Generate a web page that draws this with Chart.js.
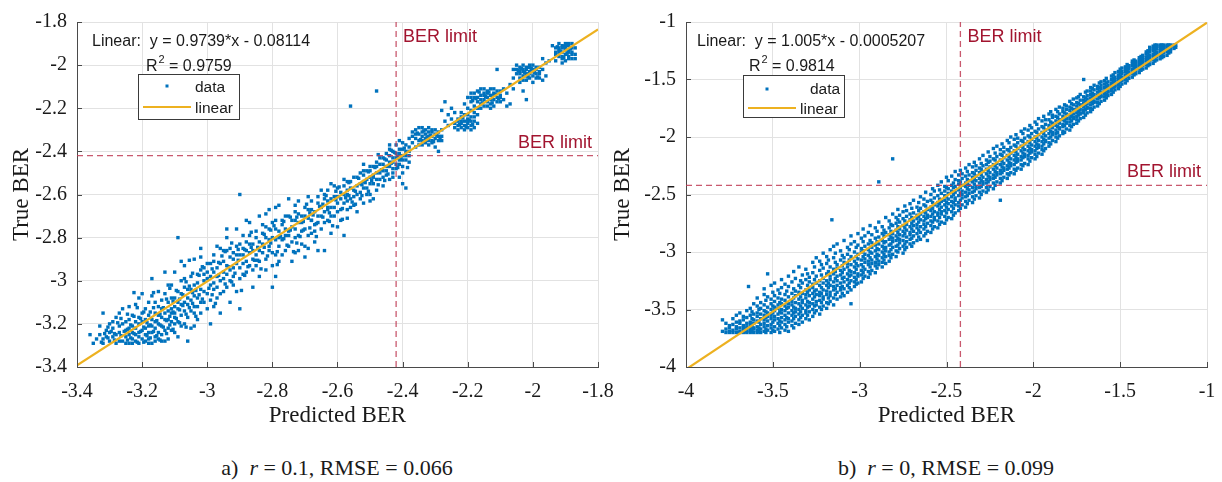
<!DOCTYPE html>
<html>
<head>
<meta charset="utf-8">
<script src="https://cdn.jsdelivr.net/npm/chart.js@4.4.1/dist/chart.umd.min.js"></script>
<style>
  html, body { margin: 0; padding: 0; background: #fff; width: 1222px; height: 482px; overflow: hidden; }
  .panel { position: absolute; top: 0; width: 640px; height: 440px; }
  #wrapA { left: 0; }
  #wrapB { left: 600px; }
  .cap { position: absolute; top: 457px; width: 400px; text-align: center; white-space: pre;
         font-family: "Liberation Serif", "Times New Roman", serif; font-size: 22px; line-height: 22px; color: #1a1a1a; }
  #capA { left: 137px; }
  #capB { left: 746px; }
</style>
</head>
<body>
<div class="panel" id="wrapA"><canvas id="chartA"></canvas></div>
<div class="panel" id="wrapB"><canvas id="chartB"></canvas></div>
<div class="cap" id="capA">a)  <i>r</i> = 0.1, RMSE = 0.066</div>
<div class="cap" id="capB">b)  <i>r</i> = 0, RMSE = 0.099</div>
<script>
// ---- axis ticks ----
const ticksA = [-3.4, -3.2, -3, -2.8, -2.6, -2.4, -2.2, -2, -1.8];
const ticksB = [-4, -3.5, -3, -2.5, -2, -1.5, -1];

// ---- BER threshold (log10) ----
const berLimit = -2.42;

// ---- linear fits: slope, intercept ----
const fitA = [0.9739, -0.08114];
const fitB = [1.005, -0.0005207];
const r2A = "0.9759";
const r2B = "0.9814";

// ---- panel a: [predicted, true] ----
const pointsA = [
  [-3.36,-3.25],[-3.35,-3.29],[-3.33,-3.21],[-3.32,-3.27],[-3.31,-3.23],[-3.30,-3.28],[-3.30,-3.20],
  [-3.29,-3.26],[-3.28,-3.29],[-3.28,-3.17],[-3.27,-3.24],[-3.27,-3.21],[-3.26,-3.28],[-3.26,-3.13],[-3.25,-3.26],[-3.25,-3.19],
  [-3.24,-3.29],[-3.24,-3.22],[-3.23,-3.16],[-3.23,-3.27],[-3.22,-3.25],[-3.22,-3.11],[-3.21,-3.20],[-3.21,-3.29],[-3.20,-3.23],
  [-3.20,-3.06],[-3.20,-3.15],[-3.19,-3.28],[-3.19,-3.18],[-3.23,-3.24],[-3.21,-3.26],[-3.19,-3.22],[-3.22,-3.19],
  [-3.18,-3.24],[-3.18,-3.10],[-3.17,-3.21],[-3.17,-3.29],[-3.17,-2.99],[-3.16,-3.15],[-3.16,-3.26],[-3.15,-3.12],[-3.15,-3.20],
  [-3.15,-3.05],[-3.14,-3.28],[-3.14,-3.17],[-3.14,-3.09],[-3.13,-3.23],[-3.18,-3.27],[-3.16,-3.19],[-3.13,-3.18],[-3.15,-3.24],
  [-3.12,-3.14],[-3.12,-3.02],[-3.12,-3.27],[-3.11,-3.19],[-3.11,-3.08],[-3.10,-2.96],[-3.10,-3.12],[-3.10,-3.24],[-3.09,-2.80],
  [-3.09,-3.05],[-3.08,-3.16],[-3.08,-3.00],[-3.08,-3.21],[-3.11,-3.15],[-3.09,-3.10],[-3.12,-3.22],[-3.10,-3.17],
  [-3.07,-3.10],[-3.07,-2.93],[-3.06,-3.28],[-3.06,-3.04],[-3.05,-3.14],[-3.05,-2.98],[-3.05,-3.22],[-3.04,-3.07],[-3.04,-2.90],
  [-3.03,-3.01],[-3.03,-3.18],[-3.02,-3.10],[-3.02,-2.95],[-3.02,-2.85],[-3.06,-3.08],[-3.04,-3.12],[-3.07,-3.03],
  [-3.01,-3.05],[-3.00,-2.99],[-3.00,-3.13],[-3.00,-2.92],[-2.99,-3.20],[-2.99,-3.02],[-2.98,-2.88],[-2.98,-2.96],[-2.97,-3.08],
  [-2.97,-2.94],[-2.96,-3.15],[-2.96,-2.85],[-2.96,-3.00],[-3.01,-2.97],[-2.98,-3.04],[-2.99,-2.92],
  [-2.95,-2.91],[-2.95,-3.05],[-2.94,-2.97],[-2.94,-2.80],[-2.93,-3.10],[-2.93,-2.89],[-2.92,-2.94],[-2.92,-3.02],[-2.91,-2.84],
  [-2.91,-2.76],[-2.90,-2.99],[-2.90,-2.60],[-2.90,-2.88],[-2.90,-3.13],[-2.94,-2.86],[-2.92,-2.90],[-2.95,-2.96],
  [-2.89,-2.92],[-2.88,-2.82],[-2.88,-2.96],[-2.87,-2.73],[-2.87,-2.87],[-2.86,-3.03],[-2.86,-2.90],[-2.85,-2.80],[-2.85,-2.93],
  [-2.84,-2.70],[-2.84,-2.86],[-2.84,-2.98],[-2.89,-2.85],[-2.87,-2.79],[-2.86,-2.83],
  [-2.83,-2.83],[-2.82,-2.90],[-2.82,-2.75],[-2.81,-2.67],[-2.81,-2.86],[-2.80,-3.03],[-2.80,-2.80],[-2.80,-2.93],[-2.79,-2.72],
  [-2.79,-2.98],[-2.78,-2.84],[-2.78,-2.77],[-2.78,-2.65],[-2.83,-2.78],[-2.81,-2.81],[-2.79,-2.88],
  [-2.77,-2.88],[-2.76,-2.79],[-2.76,-2.70],[-2.75,-2.62],[-2.75,-2.84],[-2.74,-2.75],[-2.74,-2.91],[-2.73,-2.68],[-2.73,-2.80],
  [-2.72,-2.63],[-2.72,-2.86],[-2.72,-2.73],[-2.77,-2.74],[-2.75,-2.77],[-2.73,-2.72],
  [-2.71,-2.77],[-2.70,-2.66],[-2.70,-2.84],[-2.70,-2.89],[-2.69,-2.71],[-2.69,-2.61],[-2.68,-2.78],[-2.68,-2.67],[-2.67,-2.74],
  [-2.67,-2.82],[-2.66,-2.64],[-2.66,-2.86],[-2.66,-2.70],[-2.71,-2.70],[-2.68,-2.72],[-2.64,-2.86],
  [-2.65,-2.58],[-2.65,-2.76],[-2.64,-2.68],[-2.63,-2.63],[-2.63,-2.72],[-2.62,-2.55],[-2.62,-2.66],[-2.62,-2.78],
  [-2.61,-2.61],[-2.61,-2.70],[-2.60,-2.64],[-2.60,-2.57],[-2.64,-2.62],[-2.63,-2.67],
  [-2.59,-2.67],[-2.58,-2.79],[-2.58,-2.60],[-2.58,-2.53],[-2.57,-2.63],[-2.57,-2.71],[-2.56,-2.19],[-2.56,-2.57],[-2.56,-2.66],
  [-2.55,-2.52],[-2.55,-2.61],[-2.54,-2.68],[-2.54,-2.56],[-2.59,-2.62],[-2.57,-2.58],
  [-2.53,-2.59],[-2.53,-2.50],[-2.52,-2.64],[-2.52,-2.54],[-2.51,-2.57],[-2.51,-2.49],[-2.50,-2.60],[-2.50,-2.52],[-2.50,-2.47],
  [-2.49,-2.55],[-2.49,-2.62],[-2.48,-2.12],[-2.48,-2.50],[-2.48,-2.45],[-2.48,-2.58],[-2.52,-2.51],[-2.49,-2.52],
  [-2.47,-2.53],[-2.47,-2.46],[-2.46,-2.49],[-2.46,-2.43],[-2.46,-2.56],[-2.45,-2.47],[-2.45,-2.51],[-2.45,-2.41],[-2.44,-2.45],
  [-2.44,-2.53],[-2.44,-2.39],[-2.43,-2.48],[-2.43,-2.43],[-2.43,-2.50],[-2.42,-2.41],[-2.42,-2.46],[-2.42,-2.37],
  [-2.41,-2.44],[-2.41,-2.52],[-2.41,-2.39],[-2.40,-2.42],[-2.40,-2.55],[-2.40,-2.36],[-2.40,-2.47],[-2.39,-2.40],[-2.39,-2.57],
  [-2.39,-2.44],[-2.38,-2.34],[-2.38,-2.38],[-2.38,-2.42],
  [-2.37,-2.33],[-2.37,-2.36],[-2.36,-2.30],[-2.36,-2.34],[-2.36,-2.38],[-2.35,-2.32],[-2.35,-2.35],[-2.35,-2.29],[-2.34,-2.31],
  [-2.34,-2.33],[-2.34,-2.37],[-2.33,-2.30],[-2.33,-2.34],[-2.33,-2.32],[-2.32,-2.31],[-2.32,-2.35],[-2.32,-2.29],[-2.31,-2.33],
  [-2.31,-2.30],[-2.31,-2.36],[-2.30,-2.32],[-2.30,-2.34],[-2.30,-2.38],[-2.29,-2.31],[-2.29,-2.35],[-2.29,-2.40],[-2.28,-2.33],
  [-2.28,-2.30],
  [-2.27,-2.26],[-2.26,-2.28],[-2.26,-2.23],[-2.25,-2.25],[-2.27,-2.17],[-2.28,-2.21],[-2.25,-2.20],[-2.24,-2.22],
  [-2.24,-2.27],[-2.24,-2.29],[-2.23,-2.25],[-2.23,-2.28],[-2.23,-2.30],[-2.22,-2.24],[-2.22,-2.27],[-2.22,-2.29],[-2.21,-2.26],
  [-2.21,-2.28],[-2.21,-2.23],[-2.20,-2.25],[-2.20,-2.29],[-2.20,-2.27],[-2.19,-2.24],[-2.19,-2.28],[-2.19,-2.21],[-2.18,-2.26],
  [-2.18,-2.22],[-2.18,-2.29],
  [-2.21,-2.18],[-2.20,-2.15],[-2.20,-2.20],[-2.19,-2.17],[-2.19,-2.13],[-2.18,-2.19],[-2.18,-2.15],[-2.17,-2.12],[-2.17,-2.17],
  [-2.17,-2.20],[-2.16,-2.14],[-2.16,-2.18],[-2.16,-2.11],[-2.15,-2.16],[-2.15,-2.13],[-2.15,-2.19],[-2.14,-2.12],[-2.14,-2.17],
  [-2.14,-2.15],[-2.13,-2.14],[-2.13,-2.18],[-2.13,-2.11],[-2.12,-2.16],[-2.12,-2.13],[-2.12,-2.19],[-2.11,-2.15],[-2.11,-2.12],
  [-2.10,-2.14],[-2.10,-2.17],[-2.09,-2.16],[-2.09,-2.11],[-2.11,-2.02],[-2.08,-2.13],[-2.08,-2.19],
  [-2.07,-2.09],[-2.06,-2.06],[-2.06,-2.11],[-2.07,-2.18],[-2.02,-2.16],[-2.03,-2.12],
  [-2.06,-2.02],[-2.05,-2.00],[-2.05,-2.04],[-2.04,-2.01],[-2.04,-2.03],[-2.04,-2.06],[-2.03,-2.00],[-2.03,-2.02],[-2.03,-2.05],
  [-2.02,-2.01],[-2.02,-2.04],[-2.02,-2.07],[-2.01,-2.00],[-2.01,-2.03],[-2.01,-2.06],[-2.00,-2.02],[-2.00,-2.05],[-2.00,-2.08],
  [-1.99,-2.01],[-1.99,-2.04],[-1.98,-2.03],[-1.98,-2.06],[-1.97,-2.02],[-1.97,-2.07],[-1.96,-1.99],[-1.96,-2.05],
  [-1.97,-1.97],[-1.95,-1.98],
  [-1.93,-1.92],[-1.93,-1.95],[-1.92,-1.90],[-1.92,-1.93],[-1.92,-1.96],[-1.91,-1.91],[-1.91,-1.94],[-1.91,-1.97],[-1.90,-1.90],
  [-1.90,-1.92],[-1.90,-1.95],[-1.90,-1.98],[-1.89,-1.91],[-1.89,-1.93],[-1.89,-1.96],[-1.88,-1.90],[-1.88,-1.94],[-1.88,-1.97],
  [-1.87,-1.97],[-1.93,-1.98],[-1.94,-1.91],
  [-3.34,-3.27],[-3.33,-3.25],[-3.32,-3.29],[-3.31,-3.26],[-3.29,-3.22],[-3.28,-3.25],[-3.27,-3.28],[-3.26,-3.20],[-3.25,-3.23],
  [-3.25,-3.29],[-3.29,-3.19],[-3.32,-3.15],[-3.30,-3.24],[-3.27,-3.15],
  [-3.24,-3.25],[-3.24,-3.18],[-3.23,-3.29],[-3.23,-3.21],[-3.22,-3.28],[-3.22,-3.22],[-3.21,-3.17],[-3.21,-3.24],[-3.20,-3.27],
  [-3.20,-3.19],[-3.19,-3.25],[-3.19,-3.13],[-3.18,-3.21],[-3.18,-3.29],[-3.18,-3.16],[-3.17,-3.24],[-3.17,-3.18],[-3.16,-3.28],
  [-3.16,-3.22],[-3.16,-3.10],[-3.15,-3.27],[-3.15,-3.16],[-3.24,-3.12],[-3.21,-3.08],[-3.17,-3.07],
  [-3.14,-3.21],[-3.14,-3.13],[-3.14,-3.25],[-3.13,-3.15],[-3.13,-3.28],[-3.13,-3.06],[-3.12,-3.18],[-3.12,-3.10],[-3.11,-3.23],
  [-3.11,-3.13],[-3.11,-3.02],[-3.10,-3.20],[-3.10,-3.08],[-3.10,-3.15],[-3.09,-3.19],[-3.09,-3.13],[-3.09,-3.26],[-3.08,-3.11],
  [-3.08,-3.06],[-3.07,-3.14],[-3.07,-3.20],[-3.07,-2.99],[-3.06,-3.11],[-3.06,-3.17],[-3.05,-3.09],[-3.05,-3.04],[-3.13,-2.96],
  [-3.08,-2.91],
  [-3.04,-3.15],[-3.04,-3.02],[-3.04,-3.21],[-3.03,-3.08],[-3.03,-2.97],[-3.03,-3.12],[-3.02,-3.04],[-3.02,-3.15],[-3.01,-2.94],
  [-3.01,-3.10],[-3.01,-3.00],[-3.00,-3.06],[-3.00,-2.96],[-2.99,-3.09],[-2.99,-2.98],[-2.98,-3.01],[-2.98,-3.12],[-2.98,-2.91],
  [-2.97,-3.03],[-2.97,-2.98],[-2.96,-2.92],[-2.96,-3.06],[-2.95,-2.99],[-2.95,-2.86],[-3.02,-2.89],[-2.97,-2.84],
  [-2.94,-2.93],[-2.94,-3.03],[-2.93,-2.95],[-2.93,-2.85],[-2.93,-3.00],[-2.92,-2.87],[-2.92,-2.98],[-2.91,-2.92],[-2.91,-3.05],
  [-2.91,-2.88],[-2.90,-2.94],[-2.90,-2.83],[-2.89,-2.97],[-2.89,-2.88],[-2.89,-2.79],[-2.88,-2.91],[-2.88,-2.86],[-2.87,-2.93],
  [-2.87,-2.83],[-2.86,-2.86],[-2.86,-2.95],[-2.85,-2.88],[-2.85,-2.77],[-2.94,-2.76],[-2.88,-2.72],
  [-2.84,-2.82],[-2.84,-2.91],[-2.83,-2.87],[-2.83,-2.74],[-2.82,-2.80],[-2.82,-2.95],[-2.81,-2.84],[-2.81,-2.76],[-2.80,-2.87],
  [-2.80,-2.73],[-2.79,-2.81],[-2.79,-2.76],[-2.78,-2.80],[-2.78,-2.91],[-2.77,-2.72],[-2.77,-2.81],[-2.76,-2.76],[-2.76,-2.86],
  [-2.75,-2.79],[-2.75,-2.70],[-2.82,-2.69],[-2.79,-2.66],
  [-2.74,-2.72],[-2.74,-2.82],[-2.73,-2.76],[-2.73,-2.65],[-2.72,-2.79],[-2.72,-2.69],[-2.71,-2.73],[-2.71,-2.83],[-2.70,-2.70],
  [-2.70,-2.76],[-2.69,-2.67],[-2.69,-2.79],[-2.68,-2.72],[-2.68,-2.63],[-2.67,-2.68],[-2.67,-2.77],[-2.66,-2.73],[-2.66,-2.61],
  [-2.65,-2.70],[-2.65,-2.66],[-2.73,-2.87],[-2.69,-2.85],
  [-2.64,-2.73],[-2.64,-2.60],[-2.63,-2.66],[-2.63,-2.58],[-2.62,-2.70],[-2.62,-2.62],[-2.61,-2.66],[-2.61,-2.56],[-2.60,-2.68],
  [-2.60,-2.61],[-2.59,-2.59],[-2.59,-2.72],[-2.58,-2.64],[-2.58,-2.56],[-2.57,-2.60],[-2.57,-2.54],[-2.56,-2.62],[-2.56,-2.54],
  [-2.55,-2.58],[-2.55,-2.65],[-2.60,-2.75],[-2.57,-2.67],
  [-2.54,-2.60],[-2.54,-2.52],[-2.53,-2.55],[-2.53,-2.62],[-2.52,-2.57],[-2.52,-2.49],[-2.51,-2.53],[-2.51,-2.60],[-2.50,-2.55],
  [-2.50,-2.49],[-2.49,-2.51],[-2.49,-2.47],[-2.48,-2.53],[-2.48,-2.47],[-2.47,-2.50],[-2.47,-2.43],[-2.46,-2.46],[-2.46,-2.52],
  [-2.45,-2.44],[-2.45,-2.49],[-2.52,-2.46],[-2.50,-2.63],
  [-2.44,-2.47],[-2.44,-2.42],[-2.43,-2.45],[-2.43,-2.40],[-2.43,-2.52],[-2.42,-2.43],[-2.42,-2.48],[-2.41,-2.41],[-2.41,-2.46],
  [-2.40,-2.44],[-2.40,-2.39],[-2.40,-2.50],[-2.39,-2.42],[-2.39,-2.37],[-2.38,-2.40],[-2.38,-2.45],[-2.41,-2.35],[-2.44,-2.37],
  [-2.37,-2.31],[-2.36,-2.32],[-2.35,-2.37],[-2.34,-2.35],[-2.33,-2.36],[-2.32,-2.33],[-2.31,-2.31],[-2.31,-2.35],[-2.30,-2.30],
  [-2.29,-2.33],[-2.28,-2.35],[-2.32,-2.37],[-2.34,-2.29],
  [-2.23,-2.26],[-2.22,-2.26],[-2.21,-2.30],[-2.20,-2.23],[-2.20,-2.26],[-2.19,-2.26],[-2.19,-2.30],[-2.18,-2.24],[-2.22,-2.22],
  [-2.17,-2.27],[-2.17,-2.23],
  [-2.19,-2.15],[-2.18,-2.13],[-2.17,-2.15],[-2.16,-2.16],[-2.15,-2.14],[-2.15,-2.11],[-2.14,-2.13],[-2.14,-2.19],[-2.13,-2.16],
  [-2.12,-2.14],[-2.12,-2.11],[-2.11,-2.17],[-2.10,-2.12],[-2.10,-2.15],[-2.13,-2.20],[-2.16,-2.20],
  [-2.05,-2.02],[-2.04,-2.04],[-2.03,-2.03],[-2.03,-2.07],[-2.02,-2.02],[-2.02,-2.05],[-2.01,-2.01],[-2.01,-2.04],[-2.00,-2.03],
  [-2.00,-2.00],[-1.99,-2.02],[-1.99,-2.06],[-1.98,-2.01],[-1.98,-2.04],[-2.04,-2.08],
  [-1.92,-1.92],[-1.92,-1.94],[-1.91,-1.92],[-1.91,-1.96],[-1.90,-1.93],[-1.90,-1.91],[-1.89,-1.94],[-1.89,-1.90],[-1.89,-1.97],
  [-1.88,-1.92],[-1.88,-1.95],[-1.87,-1.92],[-1.87,-1.95],[-1.93,-1.94],[-1.91,-1.99],
  [-3.325,-3.285],[-3.315,-3.245],[-3.305,-3.265],[-3.295,-3.235],[-3.285,-3.275],[-3.275,-3.195],[-3.265,-3.255],[-3.255,-3.235],
  [-3.245,-3.275],[-3.235,-3.205],[-3.225,-3.245],[-3.215,-3.285],[-3.205,-3.175],[-3.195,-3.215],[-3.185,-3.255],[-3.175,-3.145],
  [-3.165,-3.235],[-3.155,-3.185],[-3.145,-3.205],[-3.135,-3.125],[-3.125,-3.245],[-3.115,-3.165],[-3.105,-3.095],[-3.095,-3.175],
  [-3.085,-3.135],[-3.075,-3.065],[-3.065,-3.155],[-3.055,-3.025],[-3.045,-3.105],[-3.035,-3.045],[-3.025,-2.975],[-3.015,-3.085],
  [-3.305,-3.215],[-3.285,-3.245],[-3.265,-3.175],[-3.245,-3.225],[-3.235,-3.265],[-3.225,-3.165],[-3.205,-3.235],[-3.195,-3.145],
  [-3.185,-3.195],[-3.175,-3.265],[-3.165,-3.125],[-3.155,-3.255],[-3.145,-3.155],[-3.135,-3.215],[-3.125,-3.085],[-3.115,-3.205],
  [-3.105,-3.145],[-3.095,-3.045],[-3.085,-3.195],[-3.075,-3.115],[-3.065,-3.005],[-3.055,-3.125],[-3.045,-2.965],[-3.035,-3.165],
  [-3.025,-3.065],[-3.015,-2.935],
  [-3.245,-3.155],[-3.215,-3.125],[-3.195,-3.285],[-3.175,-3.205],[-3.145,-3.275],[-3.125,-3.185],[-3.105,-3.225],[-3.085,-3.085],
  [-3.065,-3.215],[-3.045,-3.055],[-3.225,-3.055],[-3.165,-3.055],[-3.115,-3.035],[-3.055,-2.905],
  [-2.995,-3.035],[-2.985,-2.945],[-2.975,-3.105],[-2.965,-2.975],[-2.955,-2.885],[-2.945,-3.015],[-2.935,-2.935],[-2.925,-2.825],
  [-2.915,-2.965],[-2.905,-2.905],[-2.895,-3.045],[-2.885,-2.855],[-2.875,-2.935],[-2.865,-2.775],[-2.855,-2.905],[-2.845,-2.845],
  [-2.835,-2.945],[-2.825,-2.785],[-2.815,-2.885],[-2.805,-2.825],[-2.795,-2.745],[-2.785,-2.865],[-2.775,-2.795],[-2.765,-2.725],
  [-2.755,-2.835],[-2.745,-2.765],[-2.735,-2.865],[-2.725,-2.705],[-2.715,-2.795],[-2.705,-2.725],[-2.695,-2.645],[-2.685,-2.755],
  [-2.675,-2.695],[-2.665,-2.795],[-2.655,-2.655],[-2.645,-2.705],[-2.635,-2.605],[-2.625,-2.685],[-2.615,-2.745],[-2.605,-2.625],
  [-2.595,-2.565],[-2.585,-2.665],[-2.575,-2.615],[-2.565,-2.545],[-2.555,-2.635],[-2.545,-2.585],[-2.535,-2.525],[-2.525,-2.605],
  [-2.515,-2.545],[-2.505,-2.495],
  [-2.985,-3.065],[-2.965,-2.915],[-2.945,-2.865],[-2.925,-3.005],[-2.905,-2.855],[-2.885,-2.975],[-2.865,-2.845],[-2.845,-2.905],
  [-2.825,-2.845],[-2.805,-2.765],[-2.785,-2.925],[-2.765,-2.805],[-2.745,-2.705],[-2.725,-2.825],[-2.705,-2.765],[-2.685,-2.685],
  [-2.665,-2.735],[-2.645,-2.645],[-2.625,-2.725],[-2.605,-2.585],[-2.585,-2.715],[-2.565,-2.605],[-2.545,-2.645],[-2.525,-2.555],
  [-2.505,-2.585],
  [-2.495,-2.535],[-2.485,-2.475],[-2.475,-2.555],[-2.465,-2.485],[-2.455,-2.435],[-2.445,-2.505],[-2.435,-2.455],[-2.425,-2.405],
  [-2.415,-2.475],[-2.405,-2.435],[-2.395,-2.385],[-2.385,-2.475],[-2.475,-2.415],[-2.455,-2.535],[-2.435,-2.395],[-2.415,-2.425],
  [-2.355,-2.315],[-2.345,-2.345],[-2.335,-2.305],[-2.325,-2.335],[-2.315,-2.325],[-2.305,-2.355],[-2.295,-2.325],[-2.285,-2.345],
  [-2.225,-2.275],[-2.215,-2.245],[-2.205,-2.285],[-2.195,-2.255],[-2.185,-2.275],
  [-2.175,-2.155],[-2.165,-2.125],[-2.155,-2.175],[-2.145,-2.145],[-2.135,-2.125],[-2.125,-2.175],[-2.115,-2.135],[-2.105,-2.155],
  [-2.185,-2.165],
  [-2.035,-2.015],[-2.025,-2.035],[-2.015,-2.055],[-2.005,-2.015],[-1.995,-2.035],[-1.985,-2.055],[-2.045,-2.025],
  [-1.915,-1.935],[-1.905,-1.915],[-1.895,-1.945],[-1.905,-1.965],[-1.885,-1.925],[-1.925,-1.915]
];

// ---- panel b: [predicted, [true values at that prediction]] ----
const columnsB = [
  [-3.79,[-3.59,-3.69]],
  [-3.77,[-3.70,-3.67,-3.62]],
  [-3.75,[-3.69,-3.66,-3.64,-3.70]],
  [-3.73,[-3.70,-3.68,-3.63,-3.58]],
  [-3.71,[-3.70,-3.67,-3.65,-3.61,-3.55]],
  [-3.69,[-3.69,-3.66,-3.62,-3.60,-3.53,-3.70]],
  [-3.67,[-3.70,-3.68,-3.64,-3.59,-3.56,-3.66]],
  [-3.65,[-3.69,-3.67,-3.65,-3.62,-3.57,-3.51,-3.70]],
  [-3.64,[-3.30]],
  [-3.63,[-3.70,-3.66,-3.63,-3.61,-3.55,-3.49,-3.68]],
  [-3.62,[-3.69,-3.64,-3.58,-3.52]],
  [-3.61,[-3.70,-3.67,-3.62,-3.59,-3.54,-3.45,-3.66]],
  [-3.59,[-3.68,-3.65,-3.60,-3.56,-3.53,-3.47,-3.40,-3.70]],
  [-3.58,[-3.69,-3.66,-3.61,-3.50]],
  [-3.57,[-3.70,-3.67,-3.63,-3.58,-3.54,-3.49,-3.44]],
  [-3.55,[-3.69,-3.65,-3.62,-3.59,-3.55,-3.51,-3.46,-3.37,-3.32]],
  [-3.54,[-3.70,-3.67,-3.57,-3.52,-3.42]],
  [-3.53,[-3.68,-3.64,-3.60,-3.56,-3.53,-3.48,-3.39,-3.19]],
  [-3.51,[-3.70,-3.66,-3.63,-3.58,-3.55,-3.50,-3.45,-3.41,-3.29]],
  [-3.50,[-3.68,-3.61,-3.53,-3.47,-3.35]],
  [-3.49,[-3.69,-3.65,-3.59,-3.56,-3.51,-3.48,-3.43,-3.38,-3.27]],
  [-3.47,[-3.67,-3.62,-3.58,-3.54,-3.49,-3.46,-3.40,-3.33]],
  [-3.46,[-3.70,-3.64,-3.60,-3.52,-3.44,-3.36]],
  [-3.45,[-3.66,-3.61,-3.57,-3.53,-3.50,-3.45,-3.41,-3.31,-3.24]],
  [-3.43,[-3.68,-3.63,-3.59,-3.55,-3.51,-3.47,-3.42,-3.37,-3.28]],
  [-3.42,[-3.65,-3.57,-3.49,-3.44,-3.34]],
  [-3.41,[-3.69,-3.61,-3.58,-3.53,-3.48,-3.45,-3.39,-3.30,-3.21]],
  [-3.39,[-3.64,-3.60,-3.55,-3.51,-3.46,-3.43,-3.36,-3.26]],
  [-3.38,[-3.66,-3.58,-3.53,-3.48,-3.40,-3.32,-3.17]],
  [-3.37,[-3.62,-3.56,-3.52,-3.49,-3.44,-3.38,-3.34,-3.23]],
  [-3.35,[-3.63,-3.59,-3.54,-3.50,-3.45,-3.41,-3.35,-3.29,-3.13]],
  [-3.34,[-3.57,-3.52,-3.47,-3.39,-3.31,-3.25]],
  [-3.33,[-3.61,-3.55,-3.49,-3.44,-3.42,-3.36,-3.27,-3.20]],
  [-3.31,[-3.58,-3.53,-3.51,-3.46,-3.40,-3.37,-3.33,-3.24,-3.15]],
  [-3.30,[-3.55,-3.48,-3.43,-3.35,-3.29,-3.19]],
  [-3.29,[-3.59,-3.52,-3.47,-3.44,-3.38,-3.33,-3.26,-3.22]],
  [-3.27,[-3.56,-3.50,-3.45,-3.41,-3.36,-3.31,-3.28,-3.18,-3.09]],
  [-3.26,[-3.53,-3.47,-3.39,-3.34,-3.24,-3.13]],
  [-3.25,[-3.51,-3.46,-3.43,-3.37,-3.33,-3.27,-3.21,-3.05]],
  [-3.23,[-3.54,-3.48,-3.42,-3.38,-3.35,-3.29,-3.25,-3.16,-3.08]],
  [-3.22,[-3.50,-3.44,-3.36,-3.31,-3.20,-3.11]],
  [-3.21,[-3.47,-3.41,-3.39,-3.33,-3.27,-3.23,-3.14,-3.01]],
  [-3.19,[-3.49,-3.44,-3.37,-3.34,-3.29,-3.25,-3.19,-3.10,-3.04]],
  [-3.18,[-3.45,-3.40,-3.31,-3.27,-3.17,-3.07]],
  [-3.17,[-3.43,-3.38,-3.35,-3.29,-3.24,-3.21,-3.13,-2.98]],
  [-3.16,[-2.72]],
  [-3.15,[-3.46,-3.40,-3.33,-3.30,-3.26,-3.19,-3.15,-3.05,-2.95]],
  [-3.14,[-3.37,-3.32,-3.23,-3.17,-3.09,-3.01]],
  [-3.13,[-3.41,-3.35,-3.29,-3.25,-3.21,-3.14,-3.11,-2.93]],
  [-3.11,[-3.39,-3.33,-3.31,-3.27,-3.20,-3.16,-3.07,-2.99]],
  [-3.10,[-3.36,-3.30,-3.23,-3.18,-3.12,-3.03]],
  [-3.09,[-3.38,-3.32,-3.26,-3.22,-3.15,-3.09,-3.05,-2.90]],
  [-3.07,[-3.35,-3.29,-3.24,-3.19,-3.13,-3.10,-3.02,-2.96]],
  [-3.06,[-3.31,-3.27,-3.21,-3.16,-3.07,-2.98]],
  [-3.05,[-3.45,-3.33,-3.25,-3.20,-3.17,-3.11,-3.04,-2.93,-2.86]],
  [-3.03,[-3.30,-3.26,-3.22,-3.18,-3.13,-3.08,-3.00,-2.91]],
  [-3.02,[-3.28,-3.24,-3.15,-3.10,-3.04,-2.96]],
  [-3.01,[-3.27,-3.21,-3.19,-3.12,-3.06,-3.02,-2.94,-2.84]],
  [-2.99,[-3.26,-3.20,-3.16,-3.11,-3.07,-3.00,-2.97,-2.88]],
  [-2.98,[-3.23,-3.18,-3.13,-3.04,-2.99,-2.91,-2.80]],
  [-2.97,[-3.21,-3.15,-3.09,-3.06,-3.02,-2.95,-2.86]],
  [-2.95,[-3.22,-3.17,-3.11,-3.08,-3.03,-2.98,-2.93,-2.83]],
  [-2.94,[-3.19,-3.13,-3.05,-3.00,-2.90,-2.77]],
  [-2.93,[-3.16,-3.10,-3.07,-3.01,-2.96,-2.92,-2.85]],
  [-2.91,[-3.18,-3.12,-3.09,-3.04,-2.99,-2.94,-2.88,-2.79]],
  [-2.90,[-3.14,-3.06,-3.02,-2.97,-2.91,-2.82]],
  [-2.89,[-3.11,-3.08,-3.03,-2.98,-2.93,-2.87,-2.74,-2.39]],
  [-2.87,[-3.13,-3.09,-3.05,-3.00,-2.95,-2.90,-2.84,-2.78]],
  [-2.86,[-3.07,-3.02,-2.97,-2.92,-2.86,-2.81]],
  [-2.85,[-3.10,-3.04,-2.99,-2.96,-2.91,-2.83,-2.70]],
  [-2.83,[-3.08,-3.03,-3.00,-2.94,-2.89,-2.85,-2.79,-2.73]],
  [-2.82,[-3.05,-2.98,-2.93,-2.87,-2.82,-2.76]],
  [-2.81,[-3.02,-2.96,-2.91,-2.88,-2.84,-2.77,-2.67,-2.19]],
  [-2.79,[-3.04,-2.99,-2.95,-2.90,-2.86,-2.81,-2.75,-2.70]],
  [-2.78,[-3.00,-2.94,-2.88,-2.83,-2.78,-2.72,-2.63]],
  [-2.77,[-2.97,-2.92,-2.89,-2.85,-2.80,-2.74,-2.68]],
  [-2.75,[-3.01,-2.95,-2.90,-2.86,-2.82,-2.77,-2.71,-2.65]],
  [-2.74,[-2.98,-2.93,-2.84,-2.79,-2.73,-2.60]],
  [-2.73,[-2.96,-2.91,-2.87,-2.81,-2.76,-2.69,-2.64]],
  [-2.71,[-2.93,-2.89,-2.85,-2.83,-2.78,-2.72,-2.67,-2.58]],
  [-2.70,[-2.95,-2.88,-2.80,-2.75,-2.70,-2.62]],
  [-2.69,[-2.92,-2.86,-2.82,-2.77,-2.73,-2.66,-2.55]],
  [-2.67,[-2.90,-2.84,-2.79,-2.76,-2.71,-2.68,-2.61]],
  [-2.66,[-2.87,-2.81,-2.74,-2.69,-2.64,-2.57]],
  [-2.65,[-2.89,-2.83,-2.78,-2.72,-2.67,-2.62,-2.52]],
  [-2.63,[-2.86,-2.80,-2.76,-2.73,-2.69,-2.65,-2.59,-2.54]],
  [-2.62,[-2.84,-2.78,-2.71,-2.66,-2.60,-2.48]],
  [-2.61,[-2.90,-2.82,-2.75,-2.70,-2.68,-2.63,-2.56]],
  [-2.59,[-2.83,-2.77,-2.73,-2.69,-2.64,-2.61,-2.55,-2.50]],
  [-2.58,[-2.80,-2.74,-2.67,-2.62,-2.57,-2.45]],
  [-2.57,[-2.78,-2.72,-2.70,-2.65,-2.59,-2.53,-2.47]],
  [-2.55,[-2.79,-2.73,-2.68,-2.66,-2.60,-2.57,-2.51,-2.42]],
  [-2.54,[-2.76,-2.70,-2.63,-2.58,-2.54,-2.46]],
  [-2.53,[-2.74,-2.67,-2.65,-2.61,-2.56,-2.49,-2.39]],
  [-2.51,[-2.75,-2.69,-2.64,-2.59,-2.55,-2.51,-2.47,-2.43]],
  [-2.50,[-2.72,-2.66,-2.61,-2.57,-2.52,-2.44,-2.35]],
  [-2.49,[-2.70,-2.63,-2.58,-2.54,-2.49,-2.45,-2.38]],
  [-2.47,[-2.71,-2.65,-2.60,-2.56,-2.52,-2.47,-2.42,-2.34]],
  [-2.46,[-2.68,-2.62,-2.57,-2.50,-2.44,-2.40]],
  [-2.45,[-2.66,-2.59,-2.55,-2.53,-2.48,-2.43,-2.37,-2.30]],
  [-2.43,[-2.64,-2.60,-2.57,-2.51,-2.46,-2.41,-2.38,-2.33]],
  [-2.42,[-2.62,-2.55,-2.49,-2.44,-2.39,-2.29]],
  [-2.41,[-2.59,-2.53,-2.50,-2.47,-2.42,-2.36,-2.32]],
  [-2.39,[-2.61,-2.56,-2.52,-2.48,-2.43,-2.40,-2.34,-2.27]],
  [-2.38,[-2.58,-2.51,-2.45,-2.41,-2.37,-2.30]],
  [-2.37,[-2.55,-2.49,-2.46,-2.42,-2.38,-2.33,-2.24]],
  [-2.35,[-2.57,-2.52,-2.48,-2.44,-2.39,-2.35,-2.31,-2.26]],
  [-2.34,[-2.54,-2.47,-2.41,-2.37,-2.32,-2.22]],
  [-2.33,[-2.51,-2.45,-2.43,-2.38,-2.34,-2.29,-2.25]],
  [-2.31,[-2.53,-2.48,-2.44,-2.40,-2.36,-2.31,-2.27,-2.19]],
  [-2.30,[-2.50,-2.43,-2.38,-2.33,-2.28,-2.23]],
  [-2.29,[-2.47,-2.41,-2.39,-2.35,-2.30,-2.25,-2.16]],
  [-2.27,[-2.48,-2.44,-2.40,-2.37,-2.32,-2.28,-2.24,-2.20]],
  [-2.26,[-2.46,-2.39,-2.34,-2.29,-2.22,-2.13]],
  [-2.25,[-2.43,-2.37,-2.35,-2.31,-2.26,-2.21,-2.17]],
  [-2.23,[-2.45,-2.40,-2.36,-2.33,-2.28,-2.24,-2.19,-2.10]],
  [-2.22,[-2.42,-2.35,-2.30,-2.25,-2.20,-2.14]],
  [-2.21,[-2.39,-2.33,-2.31,-2.27,-2.23,-2.17,-2.08]],
  [-2.19,[-2.55,-2.40,-2.36,-2.32,-2.29,-2.24,-2.20,-2.15,-2.11]],
  [-2.18,[-2.38,-2.31,-2.26,-2.21,-2.16,-2.06]],
  [-2.17,[-2.35,-2.29,-2.27,-2.23,-2.18,-2.13,-2.09]],
  [-2.15,[-2.36,-2.32,-2.28,-2.25,-2.20,-2.16,-2.11,-2.03]],
  [-2.14,[-2.33,-2.27,-2.22,-2.17,-2.12,-2.05]],
  [-2.13,[-2.31,-2.25,-2.23,-2.19,-2.14,-2.09,-2.00]],
  [-2.11,[-2.32,-2.28,-2.24,-2.20,-2.16,-2.12,-2.07,-2.02]],
  [-2.10,[-2.29,-2.22,-2.18,-2.13,-2.08,-1.98]],
  [-2.09,[-2.27,-2.21,-2.19,-2.15,-2.10,-2.05,-2.01]],
  [-2.07,[-2.28,-2.24,-2.20,-2.17,-2.12,-2.08,-2.03,-1.95]],
  [-2.06,[-2.25,-2.18,-2.14,-2.09,-2.04,-1.97]],
  [-2.05,[-2.23,-2.17,-2.15,-2.11,-2.06,-2.01,-1.93]],
  [-2.03,[-2.24,-2.19,-2.16,-2.12,-2.08,-2.04,-1.99,-1.94]],
  [-2.02,[-2.21,-2.14,-2.10,-2.05,-2.00,-1.90]],
  [-2.01,[-2.18,-2.13,-2.11,-2.07,-2.02,-1.97,-1.92]],
  [-1.99,[-2.19,-2.15,-2.12,-2.08,-2.04,-2.00,-1.95,-1.87]],
  [-1.98,[-2.17,-2.10,-2.06,-2.01,-1.96,-1.89]],
  [-1.97,[-2.14,-2.09,-2.07,-2.03,-1.98,-1.93,-1.84]],
  [-1.95,[-2.15,-2.11,-2.08,-2.04,-2.00,-1.96,-1.91,-1.86]],
  [-1.94,[-2.12,-2.06,-2.02,-1.97,-1.92,-1.82]],
  [-1.93,[-2.10,-2.04,-2.03,-1.99,-1.94,-1.89,-1.85]],
  [-1.91,[-2.08,-2.05,-2.01,-1.97,-1.93,-1.90,-1.85,-1.80]],
  [-1.90,[-2.06,-2.00,-1.95,-1.91,-1.87,-1.78]],
  [-1.89,[-2.03,-1.98,-1.96,-1.92,-1.88,-1.83,-1.81]],
  [-1.87,[-2.04,-2.00,-1.97,-1.94,-1.90,-1.86,-1.82,-1.76]],
  [-1.86,[-2.01,-1.96,-1.91,-1.87,-1.83,-1.78]],
  [-1.85,[-1.99,-1.93,-1.92,-1.88,-1.85,-1.80,-1.74]],
  [-1.83,[-1.97,-1.95,-1.91,-1.89,-1.85,-1.82,-1.78,-1.75]],
  [-1.82,[-1.96,-1.90,-1.86,-1.83,-1.79,-1.72]],
  [-1.81,[-1.93,-1.88,-1.87,-1.84,-1.80,-1.76,-1.73]],
  [-1.79,[-1.94,-1.90,-1.87,-1.84,-1.81,-1.77,-1.74,-1.69]],
  [-1.78,[-1.91,-1.86,-1.82,-1.79,-1.75,-1.71]],
  [-1.77,[-1.89,-1.84,-1.83,-1.80,-1.76,-1.72,-1.67]],
  [-1.75,[-1.88,-1.85,-1.82,-1.79,-1.76,-1.73,-1.70,-1.66]],
  [-1.74,[-1.86,-1.81,-1.78,-1.75,-1.71,-1.65]],
  [-1.73,[-1.84,-1.80,-1.79,-1.76,-1.72,-1.68,-1.63]],
  [-1.71,[-1.83,-1.79,-1.77,-1.74,-1.71,-1.68,-1.65,-1.50]],
  [-1.70,[-1.81,-1.76,-1.72,-1.69,-1.66,-1.61]],
  [-1.69,[-1.79,-1.75,-1.74,-1.71,-1.67,-1.64,-1.60]],
  [-1.67,[-1.78,-1.75,-1.72,-1.69,-1.66,-1.63,-1.60,-1.57]],
  [-1.66,[-1.76,-1.71,-1.68,-1.65,-1.62,-1.58]],
  [-1.65,[-1.74,-1.70,-1.69,-1.66,-1.63,-1.59,-1.55]],
  [-1.63,[-1.73,-1.70,-1.67,-1.64,-1.61,-1.58,-1.56]],
  [-1.62,[-1.71,-1.66,-1.63,-1.60,-1.57,-1.53]],
  [-1.61,[-1.69,-1.65,-1.64,-1.61,-1.58,-1.55,-1.52]],
  [-1.59,[-1.68,-1.65,-1.62,-1.60,-1.57,-1.54,-1.51]],
  [-1.58,[-1.66,-1.63,-1.59,-1.56,-1.53,-1.49]],
  [-1.57,[-1.64,-1.61,-1.60,-1.57,-1.55,-1.52]],
  [-1.55,[-1.63,-1.60,-1.58,-1.55,-1.53,-1.50,-1.47]],
  [-1.54,[-1.61,-1.57,-1.54,-1.52,-1.49,-1.46]],
  [-1.53,[-1.59,-1.56,-1.55,-1.52,-1.50,-1.48,-1.44]],
  [-1.51,[-1.58,-1.55,-1.53,-1.50,-1.48,-1.46,-1.43]],
  [-1.50,[-1.56,-1.52,-1.49,-1.47,-1.44,-1.41]],
  [-1.49,[-1.54,-1.51,-1.50,-1.48,-1.45,-1.43,-1.40]],
  [-1.47,[-1.53,-1.50,-1.48,-1.46,-1.43,-1.41,-1.39]],
  [-1.46,[-1.51,-1.47,-1.45,-1.42,-1.40,-1.37]],
  [-1.45,[-1.49,-1.46,-1.44,-1.41,-1.39,-1.38]],
  [-1.43,[-1.48,-1.45,-1.43,-1.41,-1.38,-1.36,-1.34]],
  [-1.42,[-1.46,-1.44,-1.40,-1.37,-1.35,-1.33]],
  [-1.41,[-1.45,-1.42,-1.39,-1.38,-1.36,-1.34]],
  [-1.39,[-1.44,-1.41,-1.39,-1.37,-1.35,-1.33,-1.31]],
  [-1.38,[-1.42,-1.40,-1.36,-1.34,-1.32,-1.30]],
  [-1.37,[-1.41,-1.38,-1.35,-1.33,-1.31,-1.29]],
  [-1.35,[-1.40,-1.37,-1.35,-1.33,-1.31,-1.28,-1.26]],
  [-1.34,[-1.38,-1.36,-1.32,-1.30,-1.27,-1.25]],
  [-1.33,[-1.37,-1.34,-1.31,-1.29,-1.26,-1.24,-1.22]],
  [-1.31,[-1.36,-1.33,-1.30,-1.28,-1.25,-1.23,-1.21]],
  [-1.30,[-1.34,-1.31,-1.29,-1.27,-1.24,-1.22,-1.20]],
  [-1.29,[-1.33,-1.30,-1.28,-1.26,-1.23,-1.21,-1.20]],
  [-1.27,[-1.32,-1.29,-1.27,-1.25,-1.23,-1.21,-1.20]],
  [-1.26,[-1.31,-1.28,-1.26,-1.24,-1.22,-1.20]],
  [-1.25,[-1.30,-1.27,-1.25,-1.23,-1.21,-1.20]],
  [-1.23,[-1.29,-1.26,-1.24,-1.22,-1.21,-1.20]],
  [-1.22,[-1.27,-1.25,-1.23,-1.21,-1.20]],
  [-1.21,[-1.26,-1.24,-1.22,-1.20]],
  [-1.19,[-1.23,-1.21,-1.20]],
  [-1.18,[-1.22,-1.20]]
];

const BLUE = '#0072BD';
const ORANGE = '#EDB120';
const CRIMSON = '#A2142F';
const AXIS = '#4a4a4a';
const GRID = '#e2e2e2';
const SERIF = '"Liberation Serif", "Times New Roman", serif';
const SANS = '"Liberation Sans", Arial, sans-serif';

function toXY(pairs) { return pairs.map(p => ({ x: p[0], y: p[1] })); }
function flattenColumns(cols) {
  const out = [];
  cols.forEach(c => c[1].forEach(y => out.push({ x: c[0], y: y })));
  return out;
}

// Legend box, fit equation, threshold labels and inward tick marks
function decorPlugin(p) {
  return {
    id: 'decor',
    afterDraw(chart) {
      const ctx = chart.ctx;
      const a = chart.chartArea;
      const xs = chart.scales.x, ys = chart.scales.y;
      ctx.save();
      // inward ticks
      ctx.strokeStyle = AXIS; ctx.lineWidth = 1;
      ctx.beginPath();
      p.ticks.forEach(v => {
        const px = Math.round(xs.getPixelForValue(v)) + 0.5;
        ctx.moveTo(px, a.bottom); ctx.lineTo(px, a.bottom - 5);
        const py = Math.round(ys.getPixelForValue(v)) + 0.5;
        ctx.moveTo(a.left, py); ctx.lineTo(a.left + 5, py);
      });
      ctx.stroke();

      // threshold labels
      ctx.fillStyle = CRIMSON;
      ctx.font = '18px ' + SANS;
      ctx.textBaseline = 'alphabetic';
      ctx.textAlign = 'left';
      const vx = xs.getPixelForValue(berLimit);
      ctx.fillText('BER limit', vx + 7, a.top + 20);
      const hy = ys.getPixelForValue(berLimit);
      ctx.textAlign = 'right';
      ctx.fillText('BER limit', a.right - 6, hy - 8);

      // fit equation
      ctx.fillStyle = '#1a1a1a';
      ctx.textAlign = 'left';
      ctx.font = '16px ' + SANS;
      const sign = p.fit[1] < 0 ? '-' : '+';
      ctx.fillText('Linear:  y = ' + p.fit[0] + '*x ' + sign + ' ' + Math.abs(p.fit[1]), a.left + p.eq[0], a.top + p.eq[1]);
      const rx = a.left + p.r2[0], ry = a.top + p.r2[1];
      ctx.fillText('R', rx, ry);
      const rw = ctx.measureText('R').width;
      ctx.font = '11px ' + SANS;
      ctx.fillText('2', rx + rw + 1, ry - 8);
      ctx.font = '16px ' + SANS;
      ctx.fillText(' = ' + p.r2Text, rx + rw + 7, ry);

      // legend box
      const L = p.legend;
      ctx.fillStyle = '#ffffff';
      ctx.fillRect(a.left + L.box[0], a.top + L.box[1], L.box[2], L.box[3]);
      ctx.strokeStyle = '#3a3a3a'; ctx.lineWidth = 1;
      ctx.strokeRect(Math.round(a.left + L.box[0]) + 0.5, Math.round(a.top + L.box[1]) + 0.5, L.box[2], L.box[3]);
      ctx.fillStyle = BLUE;
      ctx.fillRect(a.left + L.marker[0] - 1.5, a.top + L.marker[1] - 1.5, 3, 3);
      ctx.strokeStyle = ORANGE; ctx.lineWidth = 2.2;
      ctx.beginPath();
      ctx.moveTo(a.left + L.line[0], a.top + L.line[2]);
      ctx.lineTo(a.left + L.line[1], a.top + L.line[2]);
      ctx.stroke();
      ctx.fillStyle = '#1a1a1a';
      ctx.font = '15.5px ' + SANS;
      ctx.fillText('data', a.left + L.dataText[0], a.top + L.dataText[1]);
      ctx.fillText('linear', a.left + L.lineText[0], a.top + L.lineText[1]);
      ctx.restore();
    }
  };
}

function makeChart(id, pts, ticks, fit, yAxisWidth, padRight, titlePad, decor) {
  const xMin = ticks[0], xMax = ticks[ticks.length - 1];
  const fitLine = [
    { x: xMin, y: fit[0] * xMin + fit[1] },
    { x: xMax, y: fit[0] * xMax + fit[1] }
  ];
  const vLine = [{ x: berLimit, y: xMin }, { x: berLimit, y: xMax }];
  const hLine = [{ x: xMin, y: berLimit }, { x: xMax, y: berLimit }];
  const tickOpts = {
    font: { family: SERIF, size: 20 },
    color: '#1a1a1a',
    callback: v => String(v)
  };
  return new Chart(document.getElementById(id), {
    type: 'scatter',
    data: {
      datasets: [
        { label: 'linear', data: fitLine, showLine: true, borderColor: ORANGE, borderWidth: 2.2,
          pointRadius: 0, fill: false },
        { label: 'vlim', data: vLine, showLine: true, borderColor: 'rgba(192,60,85,0.85)', borderWidth: 1.3,
          borderDash: [6, 4], pointRadius: 0 },
        { label: 'hlim', data: hLine, showLine: true, borderColor: 'rgba(192,60,85,0.85)', borderWidth: 1.3,
          borderDash: [6, 4], pointRadius: 0 },
        { label: 'data', data: pts, pointStyle: 'rect', pointRadius: 2.4, pointBorderWidth: 0,
          backgroundColor: BLUE, borderColor: BLUE, showLine: false }
      ]
    },
    options: {
      responsive: true,
      maintainAspectRatio: false,
      animation: false,
      events: [],
      layout: { padding: { left: 0, right: padRight, top: 14, bottom: 0 } },
      plugins: { legend: { display: false }, tooltip: { enabled: false } },
      scales: {
        x: {
          type: 'linear', min: xMin, max: xMax,
          afterBuildTicks: s => { s.ticks = ticks.map(v => ({ value: v })); },
          afterFit: s => { s.height = 73; },
          grid: { color: GRID, lineWidth: 1, drawTicks: false },
          border: { display: true, color: AXIS, width: 1 },
          ticks: Object.assign({ padding: 13, maxRotation: 0, autoSkip: false }, tickOpts),
          title: { display: true, text: 'Predicted BER', font: { family: SERIF, size: 23 }, color: '#1a1a1a',
                   padding: { top: 0, bottom: 10 } }
        },
        y: {
          type: 'linear', min: xMin, max: xMax,
          afterBuildTicks: s => { s.ticks = ticks.map(v => ({ value: v })); },
          afterFit: s => { s.width = yAxisWidth; },
          grid: { color: GRID, lineWidth: 1, drawTicks: false },
          border: { display: true, color: AXIS, width: 1 },
          ticks: Object.assign({ padding: 10, autoSkip: false }, tickOpts),
          title: { display: true, text: 'True BER', font: { family: SERIF, size: 23 }, color: '#1a1a1a',
                   padding: { top: titlePad, bottom: 0 } }
        }
      }
    },
    plugins: [decorPlugin(decor)]
  });
}

makeChart('chartA', toXY(pointsA), ticksA, fitA, 77, 42, 8, {
  ticks: ticksA, fit: fitA, r2Text: r2A,
  eq: [15, 24], r2: [69, 49],
  legend: { box: [61, 52, 101, 45], marker: [90, 64], line: [66, 114, 85],
            dataText: [118, 70], lineText: [118, 91] }
});
makeChart('chartB', flattenColumns(columnsB), ticksB, fitB, 86, 33, 9, {
  ticks: ticksB, fit: fitB, r2Text: r2B,
  eq: [11, 24], r2: [63, 49],
  legend: { box: [57, 53, 101, 42], marker: [81, 67], line: [62, 110, 86],
            dataText: [124, 72], lineText: [114, 92] }
});
</script>
</body>
</html>
